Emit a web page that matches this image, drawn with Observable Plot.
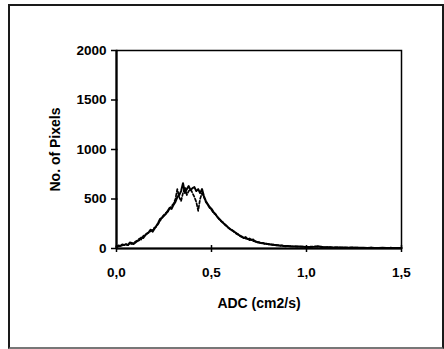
<!DOCTYPE html>
<html>
<head>
<meta charset="utf-8">
<script src="https://cdn.jsdelivr.net/npm/d3@7"></script>
<script src="https://cdn.jsdelivr.net/npm/@observablehq/plot@0.6"></script>
<style>
  html, body { margin: 0; padding: 0; background: #fff; }
  #wrap { position: relative; width: 444px; height: 349px; }
  #border { position: absolute; left: 8px; top: 4px; width: 432px; height: 341px; border: 2px solid #1a1a1a; border-bottom-color: #777; box-sizing: content-box; pointer-events: none; }
  svg text { font-family: "Liberation Sans", Arial, sans-serif; font-weight: bold; }
</style>
</head>
<body>
<div id="wrap"><div id="border"></div><div id="chart"></div></div>
<script>
// ADC values (cm2/s)
const adc = [
  0.00,0.01,0.02,0.03,0.04,0.05,0.06,0.07,0.08,0.09,
  0.10,0.11,0.12,0.13,0.14,0.15,0.16,0.17,0.18,0.19,
  0.20,0.21,0.22,0.23,0.24,0.25,0.26,0.27,0.28,0.29,
  0.30,0.31,0.32,0.33,0.34,0.35,0.36,0.37,0.38,0.39,
  0.40,0.41,0.42,0.43,0.44,0.45,0.46,0.47,0.48,0.49,
  0.50,0.51,0.52,0.53,0.54,0.55,0.56,0.57,0.58,0.59,
  0.60,0.61,0.62,0.63,0.64,0.65,0.66,0.67,0.68,0.69,
  0.70,0.71,0.72,0.73,0.74,0.75,0.76,0.77,0.78,0.79,
  0.80,0.81,0.82,0.83,0.84,0.85,0.86,0.87,0.88,0.89,
  0.90,0.92,0.94,0.96,0.98,1.00,1.02,1.04,1.06,1.08,
  1.10,1.12,1.14,1.16,1.18,1.20,1.22,1.24,1.26,1.28,
  1.30,1.32,1.34,1.36,1.38,1.40,1.42,1.44,1.46,1.48,1.50
];
// Solid curve: number of pixels
const solidCounts = [
  20,30,25,40,35,45,35,60,55,45,
  60,75,85,110,105,130,150,165,190,170,
  200,230,260,300,310,330,350,380,410,400,
  440,470,520,540,580,660,560,600,630,590,
  610,620,580,600,560,600,530,480,450,420,
  400,370,350,320,300,280,260,245,225,210,
  195,180,170,155,140,130,120,105,115,95,
  100,85,90,70,65,60,55,55,50,45,
  45,40,40,35,35,30,30,30,25,25,
  25,22,20,20,18,15,15,18,24,15,
  12,12,10,10,10,10,8,10,8,8,
  8,6,8,6,6,8,6,6,6,6,6
];
// Dashed curve: number of pixels
const dashedCounts = [
  15,20,25,30,35,40,35,50,45,60,
  70,80,100,90,125,140,150,160,175,190,
  210,220,250,280,320,340,360,370,400,430,
  450,500,600,520,480,560,620,540,580,600,
  560,520,470,380,500,560,520,470,440,410,
  390,360,345,325,295,275,265,240,230,205,
  190,185,165,150,145,125,115,115,100,100,
  85,90,75,75,60,65,50,55,45,50,
  40,45,35,40,30,35,25,30,25,20,
  25,20,22,18,20,15,18,20,15,18,
  12,14,10,12,10,8,10,8,10,6,
  8,6,8,6,8,6,6,8,6,6,6
];
const xTicks = [0, 0.5, 1.0, 1.5];
const yTicks = [0, 500, 1000, 1500, 2000];
const xTitle = "ADC (cm2/s)";
const yTitle = "No. of Pixels";

const solid = adc.map((a, i) => ({adc: a, n: solidCounts[i]}));
const dashed = adc.map((a, i) => ({adc: a, n: dashedCounts[i]}));
const fmtX = d => d.toFixed(1).replace(".", ",");

const chart = Plot.plot({
  width: 444,
  height: 349,
  marginLeft: 116,
  marginRight: 43,
  marginTop: 50,
  marginBottom: 101,
  style: {background: "transparent", fontSize: "13.5px", color: "#000"},
  x: {type: "linear", domain: [0, 1.5], label: null},
  y: {type: "linear", domain: [0, 2000], label: null},
  marks: [
    Plot.frame({stroke: "#000", strokeWidth: 1.5}),
    Plot.line(dashed, {x: "adc", y: "n", stroke: "#000", strokeWidth: 1.7, strokeDasharray: "3,2"}),
    Plot.line(solid, {x: "adc", y: "n", stroke: "#000", strokeWidth: 2}),
    Plot.ruleX([0], {stroke: "#000", strokeWidth: 2.2}),
    Plot.ruleY([0], {stroke: "#000", strokeWidth: 2.2}),
    Plot.ruleX(xTicks, {y1: 0, y2: 30, stroke: "#000", strokeWidth: 1.5}),
    Plot.ruleY(yTicks, {x1: 0, x2: 0.008, stroke: "#000", strokeWidth: 1.5}),
    Plot.axisX({ticks: xTicks, tickFormat: fmtX, tickSize: 4, tickPadding: 15, strokeWidth: 1.5, fontSize: 13.5}),
    Plot.axisY({ticks: yTicks, tickFormat: d => String(d), tickSize: 5, tickPadding: 5, strokeWidth: 1.5, fontSize: 13.5}),
    Plot.text([xTitle], {frameAnchor: "bottom", dy: 55, lineAnchor: "middle", fontSize: 14, fontWeight: "bold"}),
    Plot.text([yTitle], {frameAnchor: "left", dx: -61, rotate: -90, lineAnchor: "middle", textAnchor: "middle", fontSize: 14, fontWeight: "bold"})
  ]
});
document.getElementById("chart").appendChild(chart);
</script>
</body>
</html>
